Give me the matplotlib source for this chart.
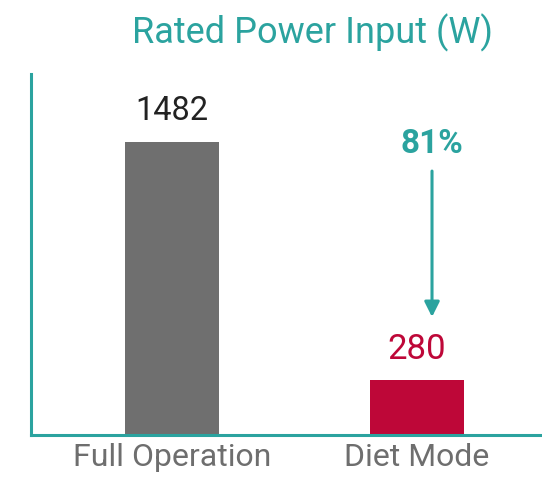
import matplotlib
matplotlib.use("Agg")
import matplotlib.pyplot as plt
from matplotlib import font_manager

categories = ["Full Operation", "Diet Mode"]
values = [1482, 280]
value_labels = ["1482", "280"]
reduction_label = "81%"
title = "Rated Power Input (W)"

teal = "#2ba39f"
bar_colors = ["#6f6f6f", "#be0738"]
label_colors = ["#222222", "#be0738"]

names = {f.name for f in font_manager.fontManager.ttflist}
fam = "Liberation Sans Narrow" if "Liberation Sans Narrow" in names else "Roboto"
plt.rcParams["font.family"] = [fam, "DejaVu Sans"]

fig = plt.figure(figsize=(5.42, 4.78), dpi=100)
ax = fig.add_axes([31/542, 1 - 435/478, 1 - 31/542, (435 - 74)/478])

x = list(range(len(categories)))
ax.bar(x, values, width=0.384, color=bar_colors)
ax.set_xlim(-0.576, 1.51)
ax.set_ylim(0, 1826)

for xi, v, lab, c, fs in zip(x, values, value_labels, label_colors, [23.5, 25]):
    ax.annotate(lab, (xi, v), xytext=(0, 22), textcoords="offset points",
                ha="center", va="center", fontsize=fs, color=c)

ax.text(1.061, 1472, reduction_label, ha="center", va="center", fontsize=24,
        color=teal, fontweight="bold")
ax.annotate("", xy=(1.061, 597), xytext=(1.061, 1335),
            arrowprops=dict(arrowstyle="-|>,head_length=0.9,head_width=0.45",
                            color=teal, lw=2.2, shrinkA=0, shrinkB=0))

ax.set_xticks(x)
ax.set_xticklabels(categories, fontsize=23, color="#6e6e6e")
ax.tick_params(axis="x", length=0, pad=6)
ax.set_yticks([])
for s in ["top", "right"]:
    ax.spines[s].set_visible(False)
for s in ["left", "bottom"]:
    ax.spines[s].set_color(teal)
    ax.spines[s].set_linewidth(2.2)

fig.text(312/542, 1 - 33/478, title, ha="center", va="center", fontsize=26, color=teal)

fig.savefig("out.png", dpi=100)
